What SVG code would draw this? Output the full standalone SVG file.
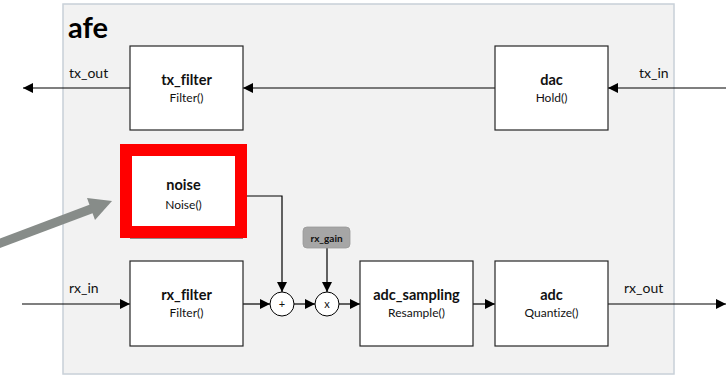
<svg xmlns="http://www.w3.org/2000/svg" width="726" height="378" viewBox="0 0 726 378">
<defs>
<marker id="ah" viewBox="0 0 10 10" refX="10" refY="5" markerWidth="10" markerHeight="10" markerUnits="userSpaceOnUse" orient="auto">
<path d="M0,0 L10,5 L0,10 z" fill="#000"/>
</marker>
</defs>
<style>
text{font-variant-ligatures:none}
.box{fill:#fff;stroke:#262626;stroke-width:1.2}
.t{font-family:Lato,"Liberation Sans",sans-serif;fill:#111;text-anchor:middle}
.b{font-weight:bold;font-size:14.5px}
.s{font-size:12px}
.lbl{font-family:Lato,"Liberation Sans",sans-serif;font-size:14px;fill:#111}
.c{fill:none;stroke:#000;stroke-width:1.2}
.circ{fill:#fff;stroke:#000;stroke-width:1}
</style>
<rect x="63" y="4" width="611" height="370" fill="#f2f2f2" stroke="#c8d0d8" stroke-width="1.5"/>
<text x="68" y="38" font-family="Lato,'Liberation Sans',sans-serif" font-weight="bold" font-size="29" fill="#000">afe</text>
<g id="connectors">
<line class="c" x1="726" y1="88" x2="608" y2="88" marker-end="url(#ah)"/>
<line class="c" x1="495" y1="88" x2="243" y2="88" marker-end="url(#ah)"/>
<line class="c" x1="130" y1="88" x2="23" y2="88" marker-end="url(#ah)"/>
<line class="c" x1="22" y1="304" x2="130" y2="304" marker-end="url(#ah)"/>
<line class="c" x1="243" y1="304" x2="270" y2="304" marker-end="url(#ah)"/>
<line class="c" x1="294" y1="304" x2="315" y2="304" marker-end="url(#ah)"/>
<line class="c" x1="339" y1="304" x2="360" y2="304" marker-end="url(#ah)"/>
<line class="c" x1="473" y1="304" x2="495" y2="304" marker-end="url(#ah)"/>
<line class="c" x1="608" y1="304" x2="726" y2="304" marker-end="url(#ah)"/>
<polyline class="c" points="247,196 282,196 282,292" marker-end="url(#ah)"/>
<line class="c" x1="327" y1="248" x2="327" y2="292" marker-end="url(#ah)"/>
<text class="lbl" x="69" y="78">tx_out</text>
<text class="lbl" x="639" y="78">tx_in</text>
<text class="lbl" x="69" y="293">rx_in</text>
<text class="lbl" x="624" y="293">rx_out</text>
</g>
<g id="tx_filter">
<rect class="box" x="130" y="46" width="113" height="84"/>
<text class="t b" x="186.5" y="85">tx_filter</text>
<text class="t s" x="186.5" y="102">Filter()</text>
</g>
<g id="dac">
<rect class="box" x="495" y="46" width="113" height="84"/>
<text class="t b" x="551.5" y="85">dac</text>
<text class="t s" x="551.5" y="102">Hold()</text>
</g>
<g id="noise">
<line x1="130" y1="238" x2="243" y2="238" stroke="#262626" stroke-width="1.2"/>
<rect x="126" y="150" width="115" height="82" fill="#fff" stroke="#ff0000" stroke-width="12"/>
<text class="t b" x="183.5" y="190">noise</text>
<text class="t s" x="183.5" y="209">Noise()</text>
</g>
<g id="rx_gain">
<rect x="303" y="227" width="47" height="21" rx="4" fill="#a6a6a6" stroke="#999" stroke-width="0.8"/>
<text class="t" x="326.5" y="241.5" font-size="10" font-weight="bold" fill="#262626">rx_gain</text>
</g>
<g id="rx_filter">
<rect class="box" x="130" y="261" width="113" height="85"/>
<text class="t b" x="186.5" y="300">rx_filter</text>
<text class="t s" x="186.5" y="317">Filter()</text>
</g>
<g id="sum">
<circle class="circ" cx="282" cy="304" r="12"/>
<text class="t" x="282" y="308" font-size="11">+</text>
</g>
<g id="mul">
<circle class="circ" cx="327" cy="304" r="12"/>
<text class="t" x="327" y="308" font-size="11">x</text>
</g>
<g id="adc_sampling">
<rect class="box" x="360" y="261" width="113" height="85"/>
<text class="t b" x="416.5" y="300">adc_sampling</text>
<text class="t s" x="416.5" y="317">Resample()</text>
</g>
<g id="adc">
<rect class="box" x="495" y="261" width="113" height="85"/>
<text class="t b" x="551.5" y="300">adc</text>
<text class="t s" x="551.5" y="317">Quantize()</text>
</g>
<g id="pointer">
<line x1="-2" y1="244" x2="95" y2="207.5" stroke="#878c89" stroke-width="9"/>
<path d="M112,201 L87,198 L95,220 z" fill="#878c89"/>
</g>
</svg>
